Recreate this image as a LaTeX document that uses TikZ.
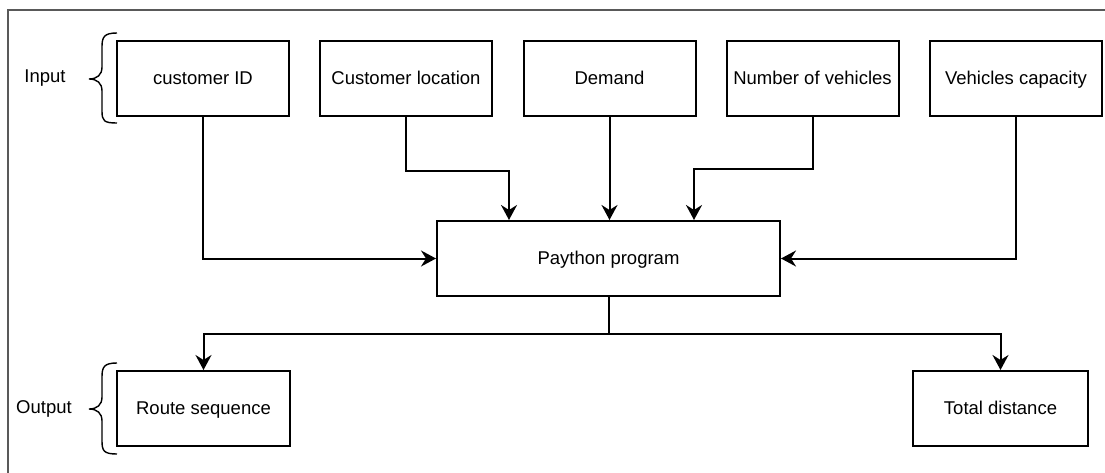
\documentclass[tikz,border=0pt]{standalone}
\usepackage{fontspec}
\setmainfont{Liberation Sans}
\usetikzlibrary{arrows.meta,calc}
\begin{document}
\begin{tikzpicture}[x=1pt,y=-1pt,
  font=\fontsize{18.5pt}{22pt}\selectfont,
  txt/.style={text height=13pt, text depth=1pt},
  box/.style={draw, line width=2pt, minimum height=75pt, inner sep=0pt, txt},
  arr/.style={line width=2pt, -{Stealth[length=15pt,width=16pt,inset=5pt]}},
  brace/.style={line width=1.4pt},
  frame/.style={line width=1.2pt, draw=black!65}]
\useasboundingbox (0,0) rectangle (1105,473);
% partial frame
\draw[frame] (8,473) -- (8,10) -- (1105,10);

% inputs
\node[box, minimum width=172pt] (cid) at (203,78.5) {customer ID};
\node[box, minimum width=172pt] (cl)  at (406,78.5) {Customer location};
\node[box, minimum width=172pt] (dem) at (609.5,78.5) {Demand};
\node[box, minimum width=172pt] (nv)  at (812.5,78.5) {Number of vehicles};
\node[box, minimum width=172pt] (vc)  at (1016,78.5) {Vehicles capacity};

% program
\node[box, minimum width=343pt] (pp) at (608.5,258.5) {Paython program};

% outputs
\node[box, minimum width=173pt] (rs) at (203.5,408.5) {Route sequence};
\node[box, minimum width=175pt] (td) at (1000.5,408.5) {Total distance};

% group labels
\node[txt] (lin)  at (45,77)  {Input};
\node[txt] (lout) at (44,407) {Output};

% braces
\draw[brace] (117,33) .. controls (104,33) and (102,37) .. (102,47) -- (102,67)
  .. controls (102,75) and (97,79) .. (89,79)
  .. controls (97,79) and (102,83) .. (102,91) -- (102,111)
  .. controls (102,121) and (104,123) .. (117,123);
\draw[brace] (117,363) .. controls (104,363) and (102,367) .. (102,377) -- (102,397)
  .. controls (102,405) and (97,409) .. (89,409)
  .. controls (97,409) and (102,413) .. (102,421) -- (102,441)
  .. controls (102,451) and (104,454) .. (117,454);

% connectors into the program
\draw[arr] (cid.south) |- (pp.west);
\draw[arr] (vc.south) |- (pp.east);
\draw[arr] (dem.south) -- (dem.south |- pp.north);
\draw[arr] (cl.south) -- ++(0,54) -| ($(pp.north west)+(73,0)$);
\draw[arr] (nv.south) -- ++(0,52) -| ($(pp.north west)+(258,0)$);

% connectors to the outputs
\draw[arr] (pp.south) -- ++(0,37) -| (rs.north);
\draw[arr] (pp.south) -- ++(0,37) -| (td.north);
\end{tikzpicture}
\end{document}
